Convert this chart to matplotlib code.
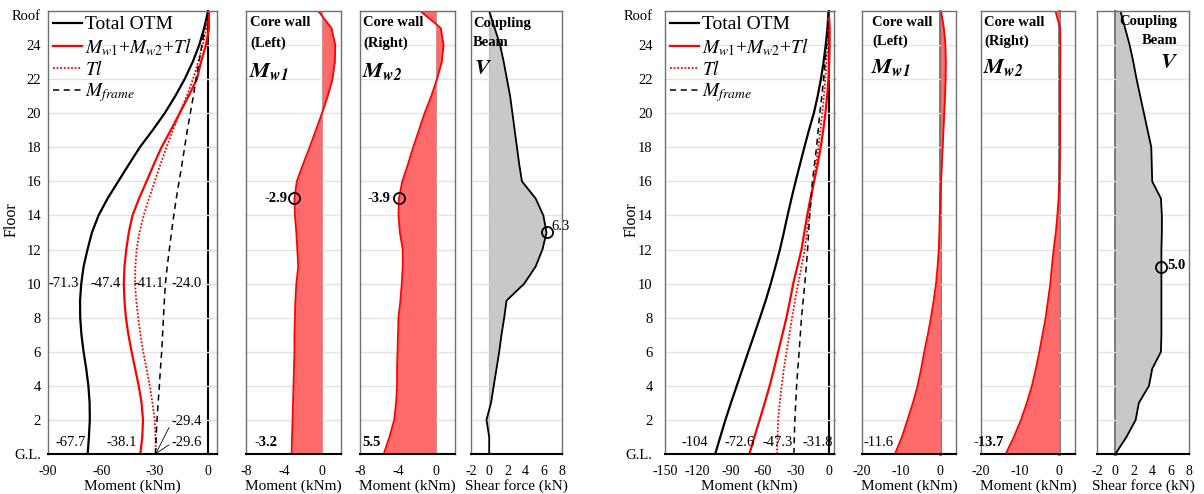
import numpy as np
import matplotlib
matplotlib.use("Agg")
import matplotlib.pyplot as plt

plt.rcParams['font.family'] = ['Liberation Serif', 'DejaVu Serif']
plt.rcParams['mathtext.fontset'] = 'stix'
plt.rcParams['axes.unicode_minus'] = False

floors = np.arange(27)
floor_ticks = [0, 2, 4, 6, 8, 10, 12, 14, 16, 18, 20, 22, 24, 25.75]
floor_labels = ['G.L.'] + [str(f) for f in range(2, 25, 2)] + ['Roof']

# ---- left model (floors G.L. .. roof) ----
otm_a = [-67.7, -67.0, -66.5, -66.6, -67.3, -68.5, -70.0, -71.2, -71.9, -72.0, -71.3, -70.0, -67.8,
         -65.3, -61.6, -56.5, -50.5, -44.5, -38.4, -31.2, -24.4, -18.5, -13.2, -8.7, -5.0, -2.2, 0.0]
red_a = [-38.1, -37.0, -36.6, -37.4, -39.0, -41.0, -43.0, -44.8, -46.2, -47.0, -47.4, -47.0, -46.0,
         -44.6, -42.5, -38.8, -34.6, -30.5, -26.2, -21.0, -16.0, -11.0, -6.3, -4.0, -1.2, 0.5, 0.4]
tl_a = [-29.4, -29.6, -30.0, -31.3, -32.8, -34.6, -36.5, -38.0, -39.3, -40.4, -41.1, -40.9, -40.2,
        -38.6, -36.2, -33.2, -30.0, -26.8, -23.4, -19.8, -16.0, -12.0, -8.5, -5.6, -3.0, -1.0, 0.0]
frame_a = [-29.6, -29.2, -28.7, -28.1, -27.4, -26.8, -26.1, -25.6, -25.1, -24.6, -24.0, -23.0, -21.8,
           -20.6, -19.3, -17.9, -16.3, -14.7, -13.2, -11.7, -10.0, -8.3, -6.8, -5.2, -3.5, -1.8, 0.0]
mw1_a = [-3.2, -3.15, -3.1, -3.05, -3.0, -2.95, -2.9, -2.9, -2.85, -2.8, -2.7, -2.5, -2.6,
         -2.7, -2.85, -2.9, -2.65, -2.0, -1.3, -0.65, 0.0, 0.6, 1.1, 1.35, 1.4, 1.0, -0.4]
mw2_a = [-5.5, -4.9, -4.4, -4.2, -4.1, -4.1, -4.05, -4.0, -3.95, -3.75, -3.6, -3.5, -3.5,
         -3.8, -3.95, -3.9, -3.55, -2.95, -2.4, -1.8, -1.2, -0.5, 0.1, 0.6, 0.8, 0.5, -1.65]
v_a = [0.0, 0.0, -0.3, 0.2, 0.5, 0.8, 1.1, 1.35, 1.65, 1.9, 3.85, 5.1, 5.85,
       6.3, 5.95, 5.1, 3.6, 3.3, 3.05, 2.8, 2.55, 2.3, 1.95, 1.6, 1.2, 0.6, 0.0]

# ---- right model ----
otm_b = [-104.0, -99.3, -94.6, -89.5, -84.2, -78.9, -73.6, -68.2, -62.9, -57.7, -53.0, -48.7, -44.6,
         -41.0, -37.6, -34.0, -30.2, -26.2, -22.2, -18.0, -13.5, -10.0, -7.0, -4.6, -2.6, -1.0, 0.0]
red_b = [-72.6, -68.0, -63.2, -58.5, -54.0, -50.0, -46.2, -42.4, -38.6, -35.4, -32.4, -28.6, -24.8,
         -22.2, -19.6, -16.6, -13.2, -10.0, -7.2, -4.9, -2.9, -1.3, -0.1, 0.6, 1.0, 1.0, 0.0]
tl_b = [-47.3, -46.8, -46.2, -44.8, -43.0, -41.0, -38.5, -36.0, -33.5, -30.8, -27.8, -24.8, -21.8,
        -19.8, -17.8, -15.8, -13.6, -11.4, -9.4, -7.5, -5.8, -4.3, -3.0, -1.9, -1.0, -0.4, 0.0]
frame_b = [-31.8, -31.4, -30.9, -30.1, -29.3, -28.2, -27.0, -25.9, -24.8, -23.3, -21.8, -20.4, -19.2,
           -18.3, -17.3, -16.0, -14.8, -12.9, -11.0, -9.5, -8.0, -6.2, -4.5, -3.2, -1.8, -0.8, 0.0]
mw1_b = [-11.6, -9.8, -8.4, -7.0, -5.8, -4.9, -4.1, -3.2, -2.4, -1.7, -1.1, -0.7, -0.4,
         -0.25, -0.15, 0.0, 0.2, 0.4, 0.6, 0.8, 1.0, 1.2, 1.35, 1.4, 1.3, 0.9, 0.2]
mw2_b = [-13.7, -11.6, -9.8, -8.3, -7.0, -6.0, -5.1, -4.3, -3.5, -2.9, -2.3, -1.9, -1.45,
         -0.9, -0.5, -0.2, 0.0, 0.1, 0.2, 0.2, 0.2, 0.2, 0.2, 0.25, 0.25, 0.2, -1.0]
v_b = [0.0, 1.2, 2.2, 2.55, 3.65, 4.0, 4.95, 5.0, 5.0, 5.0, 5.0, 5.0, 5.0,
       5.05, 5.05, 4.95, 4.0, 3.95, 3.9, 3.5, 3.1, 2.7, 2.3, 1.95, 1.55, 1.05, 0.55]

peak_wall_a = 15   # floor of marked wall moments (left model)
peak_v_a = 13
peak_v_b = 11

W, H = 1204, 494
fig = plt.figure(figsize=(W / 100, H / 100), dpi=100)

RED = '#ff0000'
FILL = '#ff6b6b'
GRID = '#e4e4e4'


def add_ax(left, width):
    return fig.add_axes([left / W, 1 - 454 / H, width / W, 443 / H])


def ftext(x, y, s, **kw):
    fig.text(x / W, 1 - y / H, s, **kw)


def setup(ax, xlim, xticks, zcol, zlw, tcol, tlen=3):
    ax.set_xlim(*xlim)
    ax.set_ylim(0, 26)
    for f in range(2, 25, 2):
        ax.axhline(f, color=GRID, lw=1, zorder=0.5)
    for s in ['left', 'right', 'top']:
        ax.spines[s].set_color('#707070')
        ax.spines[s].set_linewidth(1)
    ax.spines['bottom'].set_color('black')
    ax.spines['bottom'].set_linewidth(1.5)
    ax.set_xticks(xticks, labels=[str(t) for t in xticks])
    ax.tick_params(axis='x', length=0, pad=8, labelsize=10)
    ax.tick_params(axis='y', length=0)
    frac = (0 - xlim[0]) / (xlim[1] - xlim[0])
    sec = ax.secondary_yaxis(frac)
    sec.set_yticks(range(0, 27, 2))
    side = 'right' if frac > 0.5 else 'left'
    sec.spines[side].set_color(zcol)
    sec.spines[side].set_linewidth(zlw)
    sec.tick_params(axis='y', labelleft=False, labelright=False, length=tlen,
                    color=tcol, direction='out' if frac > 0.5 else 'in')


def otm_panel(ax, otm, red, tl, frm, xlim, xticks):
    setup(ax, xlim, xticks, 'black', 1.5, 'black', 4)
    ax.plot(otm, floors, color='black', lw=1.6, label='Total OTM')
    ax.plot(red, floors, color=RED, lw=1.6, label=r'$M_{w1}$+$M_{w2}$+$Tl$')
    ax.plot(tl, floors, color=RED, lw=1.3, ls=(0, (1, 1)), label=r'$Tl$')
    ax.plot(frm, floors, color='black', lw=1.1, ls=(0, (4, 3)), label=r'$M_{frame}$')
    ax.set_yticks(floor_ticks, labels=floor_labels)
    ax.tick_params(axis='y', labelsize=10.5, pad=5)
    ax.set_xlabel('Moment (kNm)', fontsize=11, labelpad=1)
    ax.legend(loc='upper left', frameon=False, fontsize=14, handlelength=1.5,
              handletextpad=0.15, labelspacing=0.12, borderaxespad=0.15, borderpad=0.1)


def wall_panel(ax, m, xlim, xticks, zcol, zlw):
    setup(ax, xlim, xticks, zcol, zlw, '#888888')
    ax.fill_betweenx(floors, 0, m, color=FILL, lw=0, zorder=1)
    ax.plot(m, floors, color=RED, lw=1.3, zorder=2)
    ax.set_yticks([])
    ax.set_xlabel('Moment (kNm)', fontsize=11, labelpad=1)


def shear_panel(ax, v, zcol, zlw):
    setup(ax, (-2, 8), [-2, 0, 2, 4, 6, 8], zcol, zlw, '#888888')
    ax.fill_betweenx(floors, 0, v, color='#c8c8c8', lw=0, zorder=1)
    ax.plot(v, floors, color='black', lw=1.3, zorder=2)
    ax.set_yticks([])
    ax.set_xlabel('Shear force (kN)', fontsize=11, labelpad=1)


def mark(ax, x, y):
    ax.plot(x, y, 'o', mfc='none', mec='black', ms=8, mew=1.3, zorder=5)


# ================= left model =================
ax1 = add_ax(48, 169)
otm_panel(ax1, otm_a, red_a, tl_a, frame_a, (-90, 5), [-90, -60, -30, 0])
for val, x, y in [(otm_a[10], -81.0, 10), (red_a[10], -57.4, 10), (tl_a[10], -33.3, 10),
                  (frame_a[10], -12.0, 10), (otm_a[0], -77.3, 0.65), (red_a[0], -48.5, 0.65)]:
    ax1.text(x, y, f"{val:.1f}", ha='center', va='center', fontsize=10.5)
ax1.annotate(f"{tl_a[0]:.1f}", xy=(tl_a[0] + 0.4, 0.1), xytext=(-20.4, 1.88),
             ha='left', va='center', fontsize=10.5,
             arrowprops=dict(arrowstyle='-', lw=0.6, color='black', shrinkA=0, shrinkB=0,
                             relpos=(0, 0.5)))
ax1.annotate(f"{frame_a[0]:.1f}", xy=(frame_a[0] + 0.6, 0.05), xytext=(-20.4, 0.65),
             ha='left', va='center', fontsize=10.5,
             arrowprops=dict(arrowstyle='-', lw=0.6, color='black', shrinkA=0, shrinkB=0,
                             relpos=(0, 0.5)))

ax2 = add_ax(246, 95)
wall_panel(ax2, mw1_a, (-8, 2), [-8, -4, 0], '#b0b0b0', 0.8)
mark(ax2, mw1_a[peak_wall_a], floors[peak_wall_a])
ax2.annotate(f"{mw1_a[peak_wall_a]:.1f}", xy=(mw1_a[peak_wall_a], floors[peak_wall_a]),
             xytext=(-7, 0), textcoords='offset pixels', ha='right', va='center',
             fontsize=10.5, fontweight='bold')
ax2.text(-7.1, 0.65, f"{mw1_a[0]:.1f}", ha='left', va='center', fontsize=10.5, fontweight='bold')

ax3 = add_ax(360, 95)
wall_panel(ax3, mw2_a, (-8, 2), [-8, -4, 0], '#b0b0b0', 0.8)
mark(ax3, mw2_a[peak_wall_a], floors[peak_wall_a])
ax3.annotate(f"{mw2_a[peak_wall_a]:.1f}", xy=(mw2_a[peak_wall_a], floors[peak_wall_a]),
             xytext=(-9, 0), textcoords='offset pixels', ha='right', va='center',
             fontsize=10.5, fontweight='bold')
ax3.text(-7.8, 0.65, f"{-mw2_a[0]:.1f}", ha='left', va='center', fontsize=10.5, fontweight='bold')

ax4 = add_ax(471, 91)
shear_panel(ax4, v_a, '#b0b0b0', 0.8)
mark(ax4, v_a[peak_v_a], floors[peak_v_a])
ax4.annotate(f"{v_a[peak_v_a]:.1f}", xy=(v_a[peak_v_a], floors[peak_v_a]),
             xytext=(5, 6), textcoords='offset pixels', ha='left', va='center', fontsize=10.5)

ftext(250, 23, 'Core wall', fontsize=10.5, fontweight='bold', va='center')
ftext(250, 43, '(Left)', fontsize=10.5, fontweight='bold', va='center')
ftext(249, 71, r'$\mathbfit{M}_{\mathbfit{w1}}$', fontsize=16, va='center')
ftext(363, 23, 'Core wall', fontsize=10.5, fontweight='bold', va='center')
ftext(363, 43, '(Right)', fontsize=10.5, fontweight='bold', va='center')
ftext(362, 71, r'$\mathbfit{M}_{\mathbfit{w2}}$', fontsize=16, va='center')
ftext(473, 23, 'Coupling', fontsize=10.5, fontweight='bold', va='center')
ftext(473, 43, 'Beam', fontsize=10.5, fontweight='bold', va='center')
ftext(474, 69, r'$\mathbfit{V}$', fontsize=16, va='center')

# ================= right model =================
ax5 = add_ax(665, 169)
otm_panel(ax5, otm_b, red_b, tl_b, frame_b, (-150, 5), [-150, -120, -90, -60, -30, 0])
ax5.tick_params(axis='y', pad=9)
for val, x, fmt in [(otm_b[0], -123.0, "{:.0f}"), (red_b[0], -81.4, "{:.1f}"),
                    (tl_b[0], -46.9, "{:.1f}"), (frame_b[0], -10.3, "{:.1f}")]:
    ax5.text(x, 0.65, fmt.format(val), ha='center', va='center', fontsize=10.5)

ax6 = add_ax(862, 94)
wall_panel(ax6, mw1_b, (-20, 4), [-20, -10, 0], '#707070', 2)
ax6.text(-19.7, 0.65, f"{mw1_b[0]:.1f}", ha='left', va='center', fontsize=10.5)

ax7 = add_ax(981, 94)
wall_panel(ax7, mw2_b, (-20, 4), [-20, -10, 0], '#707070', 2)
ax7.text(-22.0, 0.65, f"{mw2_b[0]:.1f}", ha='left', va='center', fontsize=10.5, fontweight='bold')

ax8 = add_ax(1097, 92)
shear_panel(ax8, v_b, '#707070', 2)
mark(ax8, v_b[peak_v_b], floors[peak_v_b])
ax8.annotate(f"{v_b[peak_v_b]:.1f}", xy=(v_b[peak_v_b], floors[peak_v_b]),
             xytext=(6, 1), textcoords='offset pixels', ha='left', va='center',
             fontsize=10.5, fontweight='bold')

ftext(872, 22, 'Core wall', fontsize=10.5, fontweight='bold', va='center')
ftext(872, 41, '(Left)', fontsize=10.5, fontweight='bold', va='center')
ftext(871, 67, r'$\mathbfit{M}_{\mathbfit{w1}}$', fontsize=16, va='center')
ftext(984, 22, 'Core wall', fontsize=10.5, fontweight='bold', va='center')
ftext(984, 41, '(Right)', fontsize=10.5, fontweight='bold', va='center')
ftext(983, 67, r'$\mathbfit{M}_{\mathbfit{w2}}$', fontsize=16, va='center')
ftext(1177, 22, 'Coupling', fontsize=10.5, fontweight='bold', va='center', ha='right')
ftext(1177, 41, 'Beam', fontsize=10.5, fontweight='bold', va='center', ha='right')
ftext(1178, 64, r'$\mathbfit{V}$', fontsize=16, va='center', ha='right')

ftext(12, 220, 'Floor', fontsize=11.5, rotation=90, ha='center', va='center')
ftext(632, 220, 'Floor', fontsize=11.5, rotation=90, ha='center', va='center')

fig.savefig('out.png', dpi=100)
